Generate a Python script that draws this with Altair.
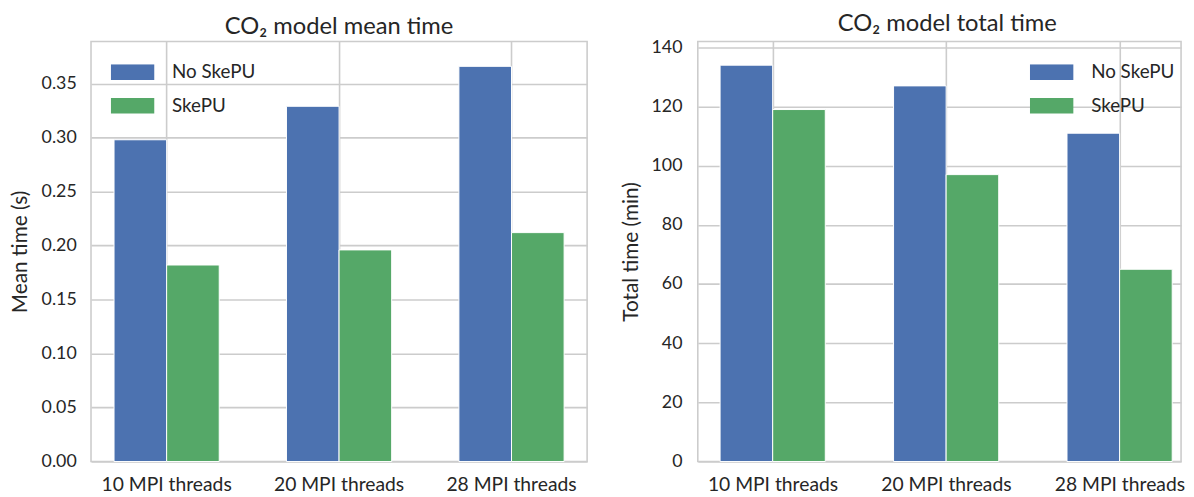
import altair as alt
import pandas as pd

categories = ["10 MPI threads", "20 MPI threads", "28 MPI threads"]
series_names = ["No SkePU", "SkePU"]
mean_no_skepu = [0.298, 0.329, 0.366]
mean_skepu = [0.182, 0.196, 0.212]
total_no_skepu = [134, 127, 111]
total_skepu = [119, 97, 65]
mean_ticks = [0.00, 0.05, 0.10, 0.15, 0.20, 0.25, 0.30, 0.35]
total_ticks = [0, 20, 40, 60, 80, 100, 120, 140]
colors = ["#4C72B0", "#55A868"]

FONT = "Lato"
TXT = "#262626"
GRID = "#cccccc"


def make_df(a, b):
    rows = []
    for c, v in zip(categories, a):
        rows.append({"cat": c, "series": series_names[0], "value": v})
    for c, v in zip(categories, b):
        rows.append({"cat": c, "series": series_names[1], "value": v})
    return pd.DataFrame(rows)


def panel(df, title, ytitle, domain, ticks, fmt, width, pad_outer, align,
          legend_x, title_dx, title_pad, label_pad):
    return alt.Chart(df).mark_bar(stroke="white", strokeWidth=1).encode(
        x=alt.X("cat:N", sort=categories, title=None,
                scale=alt.Scale(paddingInner=0.39, paddingOuter=pad_outer, align=align),
                axis=alt.Axis(labelAngle=0, bandPosition=0.5, grid=True, ticks=False,
                              domain=False, labelPadding=14, labelFontSize=19.5)),
        xOffset=alt.XOffset("series:N", sort=series_names),
        y=alt.Y("value:Q", title=ytitle,
                scale=alt.Scale(domain=domain, nice=False, zero=True),
                axis=alt.Axis(values=ticks, format=fmt, ticks=False, domain=False,
                              labelPadding=label_pad, titlePadding=title_pad)),
        color=alt.Color("series:N", sort=series_names,
                        scale=alt.Scale(domain=series_names, range=colors),
                        legend=alt.Legend(orient="none", legendX=legend_x, legendY=23,
                                          title=None,
                                          symbolType="M-1,-0.36L1,-0.36L1,0.36L-1,0.36Z",
                                          symbolSize=1936, symbolStrokeWidth=0,
                                          symbolOpacity=1,
                                          labelOffset=18, labelFontSize=19,
                                          labelFont=FONT, labelColor=TXT,
                                          clipHeight=16, rowPadding=15, padding=0)),
    ).properties(
        width=width, height=425,
        title=alt.Title(title, fontSize=24, font=FONT, fontWeight="normal",
                        color=TXT, anchor="middle", frame="group", offset=3, dx=title_dx),
    )


left = panel(make_df(mean_no_skepu, mean_skepu), "CO\u2082 model mean time",
             "Mean time (s)", [0, 0.389], mean_ticks, ".2f", 502, 0.1335, 0.5, 20, 0,
             11, 15)
right = panel(make_df(total_no_skepu, total_skepu), "CO\u2082 model total time",
              "Total time (min)", [0, 142], total_ticks, "d", 489, 0.088, 0.73, 336, 8,
              10, 16)

chart = alt.hconcat(left, right, spacing=31).resolve_scale(
    x="independent", y="independent", color="shared"
).resolve_legend(color="independent").properties(
    padding={"left": 0, "top": 0, "right": 0, "bottom": 0},
    background="white"
).configure_view(
    stroke=GRID, strokeWidth=1.6
).configure_axis(
    gridColor=GRID, gridWidth=1.6, labelFont=FONT, titleFont=FONT,
    labelFontSize=18, titleFontSize=21, titleFontWeight="normal",
    labelColor=TXT, titleColor=TXT
)

chart.save("out.html", embed_options={"renderer": "svg", "actions": False})
